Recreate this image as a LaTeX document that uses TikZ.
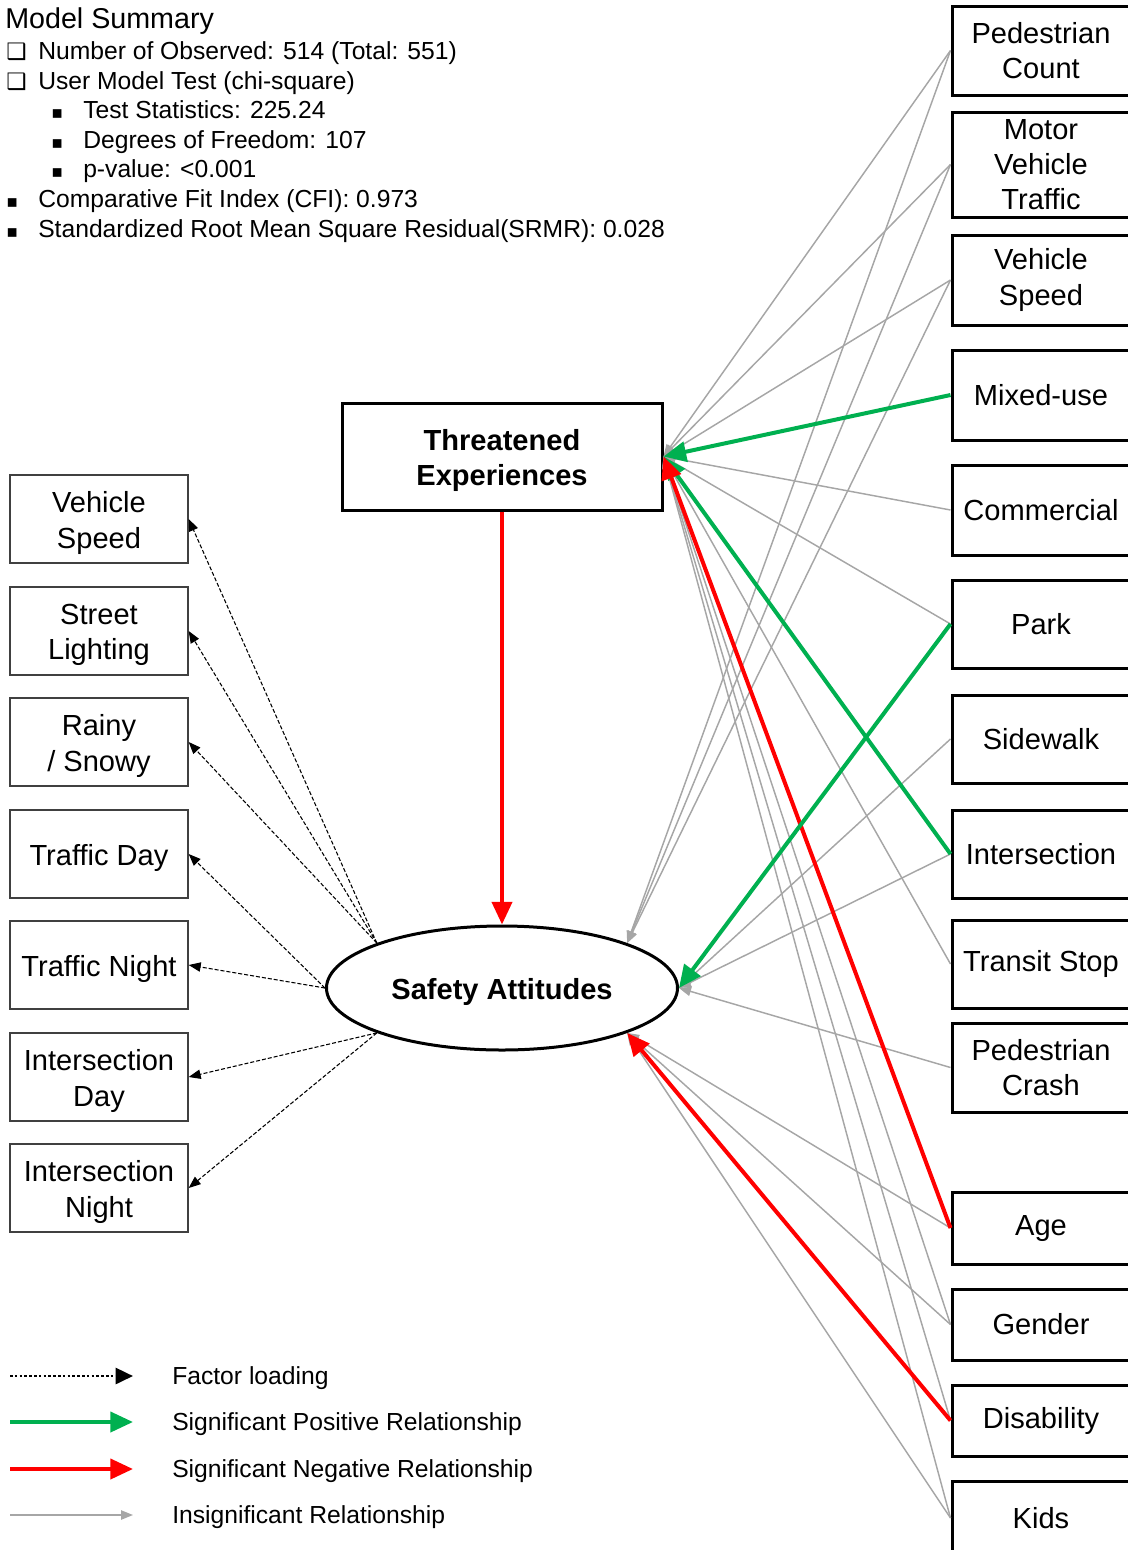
\documentclass[tikz,border=0pt]{standalone}
\usepackage{fontspec}
\setmainfont{Liberation Sans}
\newfontfamily\symfont{DejaVu Sans}
\usetikzlibrary{arrows.meta,shapes.geometric}
\definecolor{posgreen}{HTML}{00B050}
\definecolor{negred}{HTML}{FF0000}
\definecolor{insgray}{HTML}{A6A6A6}
\definecolor{lboxgray}{HTML}{404040}
\begin{document}
\begin{tikzpicture}[x=0.75pt,y=-0.75pt,
  boxfont/.style={font=\fontsize{21.8}{26.3}\selectfont},
  rbox/.style={draw, line width=2.25pt, minimum width=133.5pt, inner sep=0pt, align=center, boxfont},
  lbox/.style={draw=lboxgray, line width=1pt, minimum width=133.5pt, minimum height=66pt, inner sep=0pt,
               label={[inner sep=0pt, align=center, yshift=-3pt, boxfont]center:#1}},
  sumtxt/.style={anchor=base west, inner sep=0pt, font=\fontsize{18.5}{22}\selectfont},
  boxsym/.style={anchor=base west, inner sep=0pt, font=\symfont\fontsize{17}{20}\selectfont},
  symtxt/.style={anchor=base west, inner sep=0pt, font=\symfont\fontsize{13}{16}\selectfont},
  gry/.style={draw=insgray, line width=1.1pt, -{Triangle[length=9pt,width=7pt]}},
  posrel/.style={draw=posgreen, line width=3pt, -{Triangle[length=17pt,width=15pt]}},
  negrel/.style={draw=negred, line width=3pt, -{Triangle[length=17pt,width=15pt]}},
  fload/.style={draw=black, line width=0.8pt, dash pattern=on 3pt off 1.5pt, -{Triangle[length=9pt,width=7pt]}}
]
\useasboundingbox (0,0) rectangle (1128,1550);
\clip (0,0) rectangle (1128,1550);

% ---- model summary text ----
\node[anchor=base west, inner sep=0pt, font=\fontsize{21.5}{26}\selectfont] (ms) at (5,28) {Model Summary};
\node[boxsym] (c1) at (6,59) {❑};
\node[sumtxt] (t1) at (38,59) {Number of Observed: 514 (Total: 551)};
\node[boxsym] (c2) at (6,89) {❑};
\node[sumtxt] (t2) at (38,89) {User Model Test (chi-square)};
\node[symtxt] (b1) at (51,118) {▪};
\node[sumtxt] (t3) at (83,118) {Test Statistics: 225.24};
\node[symtxt] (b2) at (51,148) {▪};
\node[sumtxt] (t4) at (83,148) {Degrees of Freedom: 107};
\node[symtxt] (b3) at (51,177) {▪};
\node[sumtxt] (t5) at (83,177) {p-value: <0.001};
\node[symtxt] (b4) at (6,207) {▪};
\node[sumtxt] (t6) at (38,207) {Comparative Fit Index (CFI): 0.973};
\node[symtxt] (b5) at (6,237) {▪};
\node[sumtxt] (t7) at (38,237) {Standardized Root Mean Square Residual(SRMR): 0.028};

% ---- latent nodes ----
\node[draw, line width=2.25pt, minimum width=240pt, minimum height=80.25pt, inner sep=0pt,
      label={[inner sep=0pt, align=center, yshift=-3pt, font=\bfseries\fontsize{21.8}{26.3}\selectfont]center:Threatened\\Experiences}]
      (te) at (502,456.5) {};
\node[draw, ellipse, line width=2.25pt, minimum width=263.25pt, minimum height=93pt, inner sep=0pt,
      label={[inner sep=0pt, yshift=-3pt, font=\bfseries\fontsize{21.8}{26.3}\selectfont]center:Safety Attitudes}]
      (sa) at (502,988) {};

% ---- right boxes ----
\node[rbox, minimum height=66.75pt] (pc) at (1041,50.5) {Pedestrian\\Count};
\node[rbox, minimum height=78.75pt] (mvt) at (1041,164.5) {Motor\\Vehicle\\Traffic};
\node[rbox, minimum height=67.5pt] (vs) at (1041,280) {Vehicle\\Speed};
\node[rbox, minimum height=67.5pt] (mu) at (1041,395) {Mixed-use};
\node[rbox, minimum height=67.5pt] (co) at (1041,510) {Commercial};
\node[rbox, minimum height=66pt] (pk) at (1041,624) {Park};
\node[rbox, minimum height=66pt] (sw) at (1041,739) {Sidewalk};
\node[rbox, minimum height=66pt] (is) at (1041,854) {Intersection};
\node[rbox, minimum height=66pt] (ts) at (1041,964) {Transit Stop};
\node[rbox, minimum height=66.75pt] (pcr) at (1041,1067.5) {Pedestrian\\Crash};
\node[rbox, minimum height=54pt] (ag) at (1041,1228) {Age};
\node[rbox, minimum height=53.25pt] (ge) at (1041,1324.5) {Gender};
\node[rbox, minimum height=53.25pt] (di) at (1041,1420.5) {Disability};
\node[rbox, minimum height=55.5pt] (ki) at (1041,1518) {Kids};

% ---- left boxes ----
\node[lbox={Vehicle\\Speed}] (lvs) at (99,519) {};
\node[lbox={Street\\Lighting}] (lsl) at (99,631) {};
\node[lbox={Rainy\\/ Snowy}] (lrs) at (99,742) {};
\node[lbox={Traffic Day}] (ltd) at (99,854) {};
\node[lbox={Traffic Night}] (ltn) at (99,965) {};
\node[lbox={Intersection\\Day}] (lid) at (99,1077) {};
\node[lbox={Intersection\\Night}] (lin) at (99,1188) {};

% ---- insignificant relationships ----
\draw[gry] (pc.west) -- (te.east);
\draw[gry] (mvt.west) -- (te.east);
\draw[gry] (vs.west) -- (te.east);
\draw[gry] (co.west) -- (te.east);
\draw[gry] (pk.west) -- (te.east);
\draw[gry] (ts.west) -- (te.east);
\draw[gry] (ge.west) -- (te.east);
\draw[gry] (di.west) -- (te.east);
\draw[gry] (ki.west) -- (te.east);
\draw[gry] (pc.west) -- (sa.north east);
\draw[gry] (mvt.west) -- (sa.north east);
\draw[gry] (vs.west) -- (sa.north east);
\draw[gry] (sw.west) -- (sa.east);
\draw[gry] (is.west) -- (sa.east);
\draw[gry] (pcr.west) -- (sa.east);
\draw[gry] (ag.west) -- (sa.south east);
\draw[gry] (ge.west) -- (sa.south east);
\draw[gry] (ki.west) -- (sa.south east);

% ---- significant relationships ----
\draw[posrel] (mu.west) -- (te.east);
\draw[posrel] (is.west) -- (te.east);
\draw[negrel] (ag.west) -- (te.east);
\draw[posrel] (pk.west) -- (sa.east);
\draw[negrel] (di.west) -- (sa.south east);
\draw[negrel] (te.south) -- (sa.north);

% ---- factor loadings ----
\draw[fload] (sa.north west) -- (lvs.east);
\draw[fload] (sa.north west) -- (lsl.east);
\draw[fload] (sa.north west) -- (lrs.east);
\draw[fload] (sa.west) -- (ltd.east);
\draw[fload] (sa.west) -- (ltn.east);
\draw[fload] (sa.south west) -- (lid.east);
\draw[fload] (sa.south west) -- (lin.east);

% ---- legend ----
\coordinate (la1) at (10,1376); \coordinate (lb1) at (133,1376);
\coordinate (la2) at (10,1422); \coordinate (lb2) at (133,1422);
\coordinate (la3) at (10,1469); \coordinate (lb3) at (133,1469);
\coordinate (la4) at (10,1515); \coordinate (lb4) at (133,1515);
\draw[draw=black, line width=2pt, dash pattern=on 2pt off 1.6pt, -{Triangle[length=13pt,width=12pt]}] (la1) -- (lb1);
\draw[posrel] (la2) -- (lb2);
\draw[negrel] (la3) -- (lb3);
\draw[gry] (la4) -- (lb4);
\node[sumtxt, anchor=west] (lt1) at (172,1378) {Factor loading};
\node[sumtxt, anchor=west] (lt2) at (172,1424) {Significant Positive Relationship};
\node[sumtxt, anchor=west] (lt3) at (172,1471) {Significant Negative Relationship};
\node[sumtxt, anchor=west] (lt4) at (172,1517) {Insignificant Relationship};
\end{tikzpicture}
\end{document}
